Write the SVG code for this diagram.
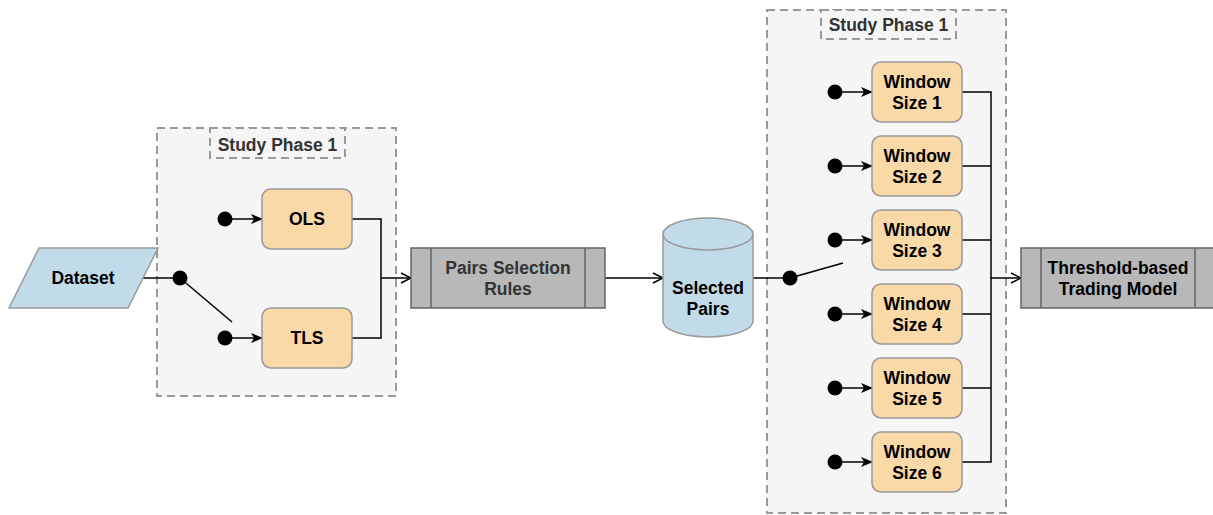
<svg xmlns="http://www.w3.org/2000/svg" width="1213" height="515" viewBox="0 0 1213 515">
<style>
text{font-family:"Liberation Sans",Arial,sans-serif;font-weight:bold;font-size:17.5px;text-anchor:middle;fill:#000}
.grp{fill:#f5f5f5;stroke:#999;stroke-width:2;stroke-dasharray:8 5}
.lbl{fill:#f5f5f5;stroke:#999;stroke-width:2;stroke-dasharray:8 5}
.lbltxt{fill:#333}
.proc{fill:#fad9a8;stroke:#999;stroke-width:1.5}
.sub{fill:#b8b8b8;stroke:#666;stroke-width:1.5}
.data{fill:#c1dbe9;stroke:#999;stroke-width:1.5}
.ln{fill:none;stroke:#000;stroke-width:1.5}
.dot{fill:#000}
</style>
<defs>
<marker id="cls" viewBox="0 0 12 10" refX="11" refY="5" markerWidth="12" markerHeight="10" markerUnits="userSpaceOnUse" orient="auto">
<path d="M0,0 L12,5 L0,10 L3,5 Z" fill="#000"/>
</marker>
<marker id="opn" viewBox="0 0 12 12" refX="11" refY="6" markerWidth="12" markerHeight="12" markerUnits="userSpaceOnUse" orient="auto">
<path d="M1,1 L11,6 L1,11" fill="none" stroke="#000" stroke-width="1.5"/>
</marker>
</defs>

<g id="group-left">
<rect class="grp" x="157" y="128" width="239" height="268"/>
<rect class="lbl" x="210" y="128" width="135" height="30"/>
<text class="lbltxt" x="277.5" y="151">Study Phase 1</text>
</g>
<g id="group-right">
<rect class="grp" x="767" y="10" width="239" height="503"/>
<rect class="lbl" x="821" y="10" width="135" height="29"/>
<text class="lbltxt" x="888.5" y="31">Study Phase 1</text>
</g>

<g id="connectors">
<!-- dataset to switch -->
<line class="ln" x1="143" y1="278" x2="180" y2="278"/>
<line class="ln" x1="180" y1="278" x2="232" y2="322"/>
<circle class="dot" cx="180" cy="278" r="7.5"/>
<!-- dots to OLS/TLS -->
<circle class="dot" cx="225" cy="219" r="7.5"/>
<line class="ln" x1="225" y1="219" x2="262" y2="219" marker-end="url(#cls)"/>
<circle class="dot" cx="225" cy="338" r="7.5"/>
<line class="ln" x1="225" y1="338" x2="262" y2="338" marker-end="url(#cls)"/>
<!-- merge to Pairs -->
<polyline class="ln" points="352,219 381,219 381,338 352,338"/>
<line class="ln" x1="381" y1="278" x2="411" y2="278" marker-end="url(#opn)"/>
<!-- pairs to cylinder -->
<line class="ln" x1="605" y1="278" x2="663" y2="278" marker-end="url(#opn)"/>
<!-- cylinder to switch -->
<line class="ln" x1="753" y1="278" x2="790" y2="278"/>
<line class="ln" x1="790" y1="278" x2="843" y2="263"/>
<circle class="dot" cx="790" cy="278" r="7.5"/>
<!-- dots to windows -->
<circle class="dot" cx="835" cy="92" r="7.5"/>
<line class="ln" x1="835" y1="92" x2="872" y2="92" marker-end="url(#cls)"/>
<circle class="dot" cx="835" cy="166" r="7.5"/>
<line class="ln" x1="835" y1="166" x2="872" y2="166" marker-end="url(#cls)"/>
<circle class="dot" cx="835" cy="240" r="7.5"/>
<line class="ln" x1="835" y1="240" x2="872" y2="240" marker-end="url(#cls)"/>
<circle class="dot" cx="835" cy="314" r="7.5"/>
<line class="ln" x1="835" y1="314" x2="872" y2="314" marker-end="url(#cls)"/>
<circle class="dot" cx="835" cy="388" r="7.5"/>
<line class="ln" x1="835" y1="388" x2="872" y2="388" marker-end="url(#cls)"/>
<circle class="dot" cx="835" cy="462" r="7.5"/>
<line class="ln" x1="835" y1="462" x2="872" y2="462" marker-end="url(#cls)"/>
<!-- windows merge -->
<polyline class="ln" points="962,92 991,92 991,462 962,462"/>
<line class="ln" x1="962" y1="166" x2="991" y2="166"/>
<line class="ln" x1="962" y1="240" x2="991" y2="240"/>
<line class="ln" x1="962" y1="314" x2="991" y2="314"/>
<line class="ln" x1="962" y1="388" x2="991" y2="388"/>
<line class="ln" x1="991" y1="278" x2="1021" y2="278" marker-end="url(#opn)"/>
</g>

<g id="dataset">
<polygon class="data" points="39,248 158,248 128,308 9,308"/>
<text x="83" y="284">Dataset</text>
</g>
<g id="ols">
<rect class="proc" x="262" y="189" width="90" height="60" rx="9"/>
<text x="307" y="225">OLS</text>
</g>
<g id="tls">
<rect class="proc" x="262" y="308" width="90" height="60" rx="9"/>
<text x="307" y="344">TLS</text>
</g>
<g id="pairs-selection">
<rect class="sub" x="411" y="248" width="194" height="60"/>
<line stroke="#666" stroke-width="1.5" x1="431" y1="248" x2="431" y2="308"/>
<line stroke="#666" stroke-width="1.5" x1="585" y1="248" x2="585" y2="308"/>
<text class="lbltxt" x="508" y="274">Pairs Selection</text>
<text class="lbltxt" x="508" y="295">Rules</text>
</g>
<g id="selected-pairs">
<path class="data" d="M663,234 A45,16 0 0 1 753,234 L753,321 A45,16 0 0 1 663,321 Z"/>
<path fill="none" stroke="#999" stroke-width="1.5" d="M663,234 A45,16 0 0 0 753,234"/>
<text x="708" y="294">Selected</text>
<text x="708" y="315">Pairs</text>
</g>
<g id="window1">
<rect class="proc" x="872" y="62" width="90" height="60" rx="9"/>
<text x="917" y="88">Window</text><text x="917" y="109">Size 1</text>
</g>
<g id="window2">
<rect class="proc" x="872" y="136" width="90" height="60" rx="9"/>
<text x="917" y="162">Window</text><text x="917" y="183">Size 2</text>
</g>
<g id="window3">
<rect class="proc" x="872" y="210" width="90" height="60" rx="9"/>
<text x="917" y="236">Window</text><text x="917" y="257">Size 3</text>
</g>
<g id="window4">
<rect class="proc" x="872" y="284" width="90" height="60" rx="9"/>
<text x="917" y="310">Window</text><text x="917" y="331">Size 4</text>
</g>
<g id="window5">
<rect class="proc" x="872" y="358" width="90" height="60" rx="9"/>
<text x="917" y="384">Window</text><text x="917" y="405">Size 5</text>
</g>
<g id="window6">
<rect class="proc" x="872" y="432" width="90" height="60" rx="9"/>
<text x="917" y="458">Window</text><text x="917" y="479">Size 6</text>
</g>
<g id="threshold-model">
<rect class="sub" x="1021" y="248" width="194" height="60"/>
<line stroke="#666" stroke-width="1.5" x1="1041" y1="248" x2="1041" y2="308"/>
<line stroke="#666" stroke-width="1.5" x1="1195" y1="248" x2="1195" y2="308"/>
<text x="1118" y="274">Threshold-based</text>
<text x="1118" y="295">Trading Model</text>
</g>
</svg>
